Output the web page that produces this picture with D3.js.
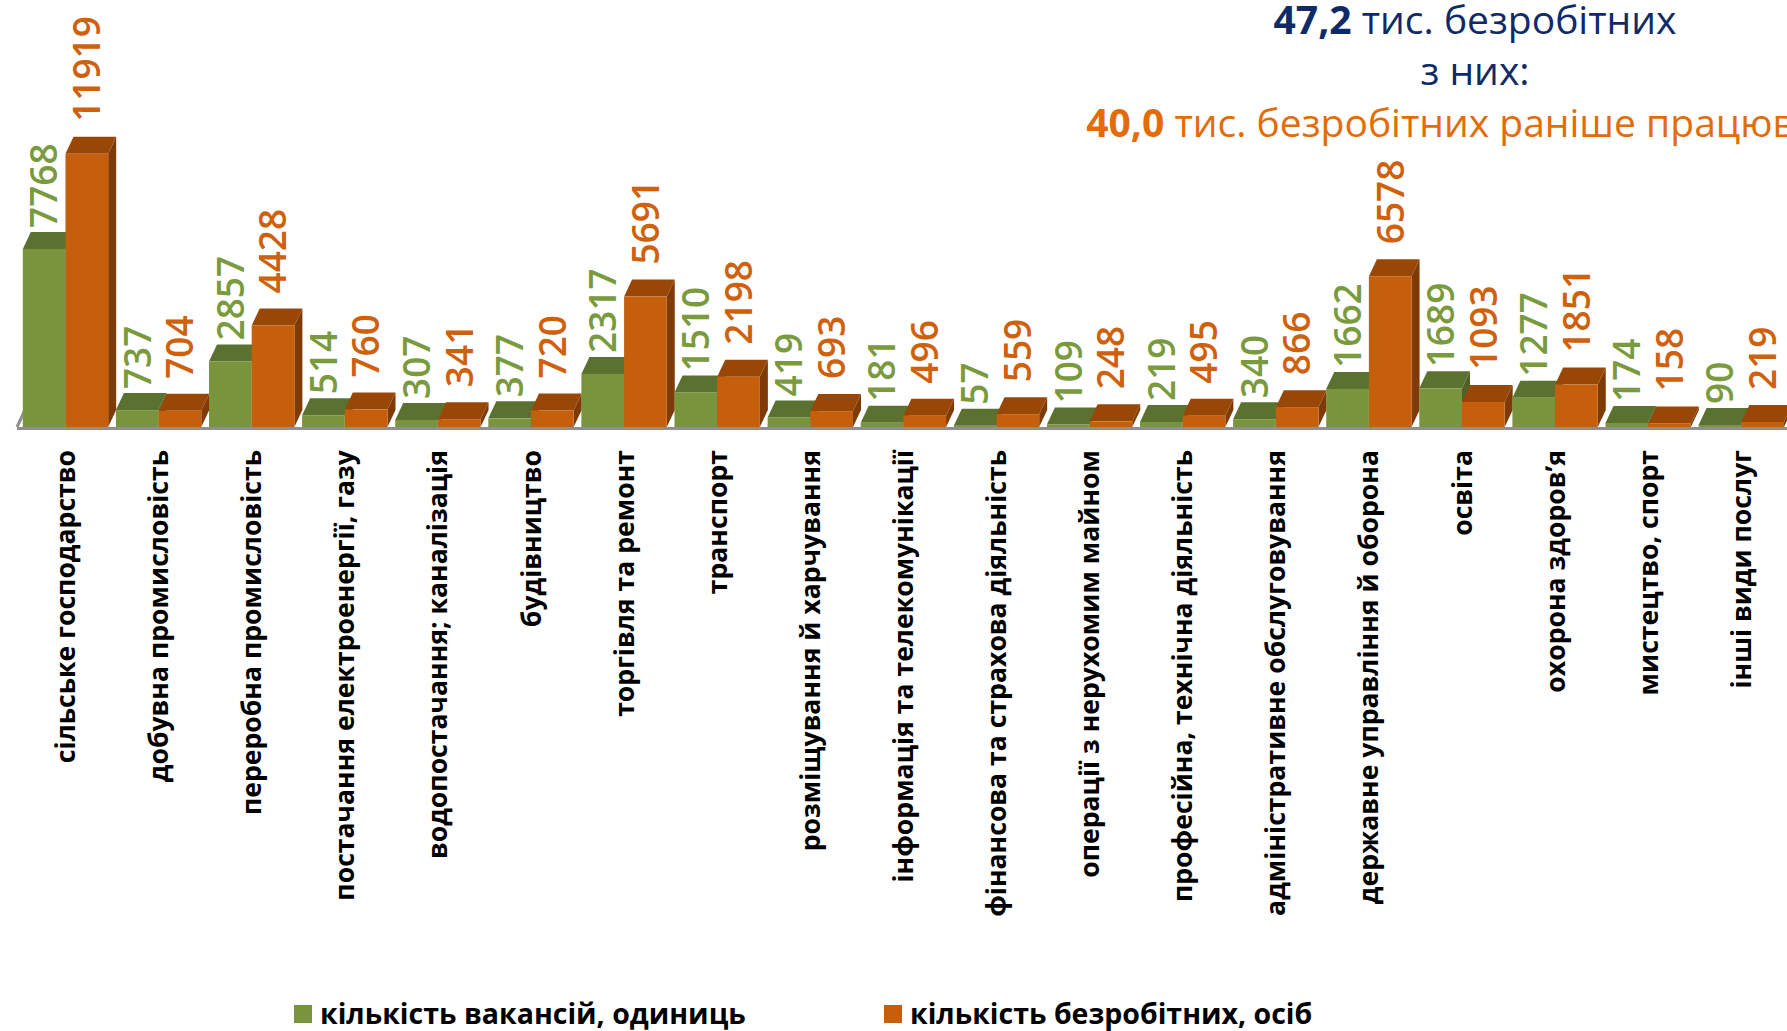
<!DOCTYPE html>
<html>
<head>
<meta charset="utf-8">
<script src="https://cdn.jsdelivr.net/npm/d3@7"></script>
<style>
  body { margin: 0; background: #fff; }
  svg { display: block; font-family: "Open Sans", sans-serif; }
</style>
</head>
<body>
<div id="chart"></div>
<script>
// categories and the two series
const categories = [
    "сільське господарство",
    "добувна промисловість",
    "переробна промисловість",
    "постачання електроенергії, газу",
    "водопостачання; каналізація",
    "будівництво",
    "торгівля та ремонт",
    "транспорт",
    "розміщування й харчування",
    "інформація та телекомунікації",
    "фінансова та страхова діяльність",
    "операції з нерухомим майном",
    "професійна, технічна діяльність",
    "адміністративне обслуговування",
    "державне управління й оборона",
    "освіта",
    "охорона здоровʼя",
    "мистецтво, спорт",
    "інші види послуг"
];
const vacancies = [7768, 737, 2857, 514, 307, 377, 2317, 1510, 419, 181, 57, 109, 219, 340, 1662, 1689, 1277, 174, 90];
const unemployed = [11919, 704, 4428, 760, 341, 720, 5691, 2198, 693, 496, 559, 248, 495, 866, 6578, 1093, 1851, 158, 219];
const seriesNames = ["кількість вакансій, одиниць", "кількість безробітних, осіб"];

const width = 1787, height = 1031;
const baseY = 427;
const depthX = 8, depthY = 17;

// colours for front / top / side of each series, plus label gap
const palette = [
    { front: "#7a943e", top: "#5b7130", side: "#4e6228", label: "#7a9a3e", gap: 4 },
    { front: "#c55f0b", top: "#984707", side: "#7f3b07", label: "#cf600c", gap: 15 }
];

const svg = d3.select("#chart")
    .append("svg")
    .attr("width", width)
    .attr("height", height);

svg.append("rect").attr("width", width).attr("height", height).attr("fill", "#fff");

const x0 = d3.scaleBand()
    .domain(categories)
    .range([22.8, 22.8 + 93.1 * (categories.length - 0.083)])
    .paddingInner(0.083)
    .paddingOuter(0);

const x1 = d3.scaleBand()
    .domain([0, 1])
    .range([0, x0.bandwidth()]);

const y = d3.scaleLinear()
    .domain([0, 12000])
    .range([baseY, baseY - 275]);

// floor edge
svg.append("path")
    .attr("d", `M17,${baseY} L${17 + depthX},${baseY - depthY} M17,${baseY + 1.5} L${width},${baseY + 1.5}`)
    .attr("stroke", "#8f8f8f")
    .attr("stroke-width", 3)
    .attr("fill", "none");

const rows = categories.map((c, i) => ({ cat: c, values: [vacancies[i], unemployed[i]] }));

const groups = svg.selectAll(".group")
    .data(rows)
    .enter().append("g")
    .attr("class", "group")
    .attr("transform", d => `translate(${x0(d.cat)},0)`);

const bars = groups.selectAll(".bar")
    .data(d => d.values.map((v, s) => ({ v: v, s: s })))
    .enter().append("g")
    .attr("class", "bar");

const bw = x1.bandwidth();

// side face
bars.append("path")
    .attr("d", d => {
        const xl = x1(d.s), yt = y(d.v);
        return `M${xl + bw},${yt} L${xl + bw + depthX},${yt - depthY} L${xl + bw + depthX},${baseY - depthY} L${xl + bw},${baseY} Z`;
    })
    .attr("fill", d => palette[d.s].side);

// top face
bars.append("path")
    .attr("d", d => {
        const xl = x1(d.s), yt = y(d.v);
        return `M${xl},${yt} L${xl + depthX},${yt - depthY} L${xl + bw + depthX},${yt - depthY} L${xl + bw},${yt} Z`;
    })
    .attr("fill", d => palette[d.s].top);

// front
bars.append("rect")
    .attr("x", d => x1(d.s))
    .attr("y", d => y(d.v))
    .attr("width", bw)
    .attr("height", d => baseY - y(d.v))
    .attr("fill", d => palette[d.s].front);

// value labels, rotated
groups.selectAll(".val")
    .data(d => d.values.map((v, s) => ({ v: v, s: s })))
    .enter().append("text")
    .attr("class", "val")
    .attr("transform", d => `translate(${x1(d.s) + bw / 2},${y(d.v) - depthY - palette[d.s].gap}) rotate(-90)`)
    .attr("dy", "0.36em")
    .attr("text-anchor", "start")
    .attr("font-size", 37)
    .attr("font-weight", 600)
    .attr("fill", d => palette[d.s].label)
    .text(d => d.v);

// category axis
const xAxis = svg.append("g")
    .attr("transform", `translate(0,450)`)
    .call(d3.axisBottom(x0).tickSize(0).tickPadding(0));
xAxis.select(".domain").remove();
xAxis.selectAll("text")
    .attr("transform", "rotate(-90)")
    .attr("x", 0)
    .attr("y", 0)
    .attr("dy", "0.36em")
    .attr("text-anchor", "end")
    .attr("font-family", "Open Sans")
    .attr("font-size", 26.6)
    .attr("font-weight", "bold")
    .attr("fill", "#000");

// title block
const titleX = 1475;
const t1 = svg.append("text").attr("x", titleX).attr("y", 34)
    .attr("text-anchor", "middle").attr("font-size", 39).attr("fill", "#0f2a68");
t1.append("tspan").attr("font-weight", "bold").text("47,2");
t1.append("tspan").text(" тис. безробітних");

svg.append("text").attr("x", titleX).attr("y", 85)
    .attr("text-anchor", "middle").attr("font-size", 39).attr("fill", "#0f2a68")
    .text("з них:");

const t3 = svg.append("text").attr("x", titleX).attr("y", 137)
    .attr("text-anchor", "middle").attr("font-size", 39).attr("fill", "#e36c0a");
t3.append("tspan").attr("font-weight", "bold").text("40,0");
t3.append("tspan").text(" тис. безробітних раніше працювали");

// legend
const legendX = [294, 884];
const legend = svg.selectAll(".legend")
    .data(seriesNames)
    .enter().append("g")
    .attr("class", "legend")
    .attr("transform", (d, i) => `translate(${legendX[i]},1005)`);
legend.append("rect")
    .attr("width", 18).attr("height", 18)
    .attr("fill", (d, i) => palette[i].front);
legend.append("text")
    .attr("x", 26).attr("y", 19)
    .attr("font-size", 28.5).attr("font-weight", "bold")
    .attr("fill", "#000")
    .text(d => d);
</script>
</body>
</html>
